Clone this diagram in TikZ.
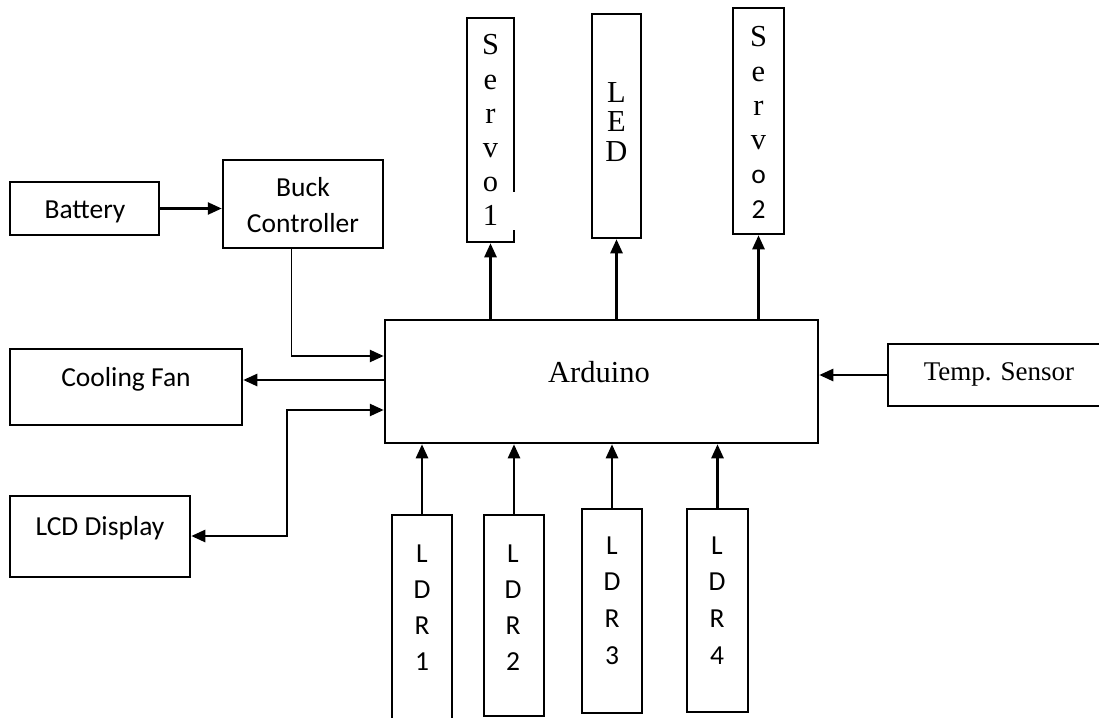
\documentclass[tikz,border=0pt]{standalone}
\usepackage{fontspec}
\setmainfont{Liberation Serif}
\newfontfamily\calfont{Carlito}
\newfontfamily\tnrfont{Liberation Serif}
\usetikzlibrary{arrows.meta}
\tikzset{
  blk/.style={draw, line width=2.5pt, rectangle, inner sep=0pt},
  arr/.style={line width=2.5pt, -{Triangle[length=14pt,width=12pt]}},
  arrb/.style={line width=2.5pt, {Triangle[length=14pt,width=12pt]}-{Triangle[length=14pt,width=12pt]}},
  thinln/.style={line width=1pt},
  cal/.style={font=\calfont\fontsize{27.5}{33}\selectfont, inner sep=0pt, anchor=base},
  tnr/.style={font=\tnrfont\fontsize{30.5}{34}\selectfont, inner sep=0pt, anchor=base},
  tnrs/.style={font=\tnrfont\fontsize{27}{32}\selectfont, inner sep=0pt, anchor=base},
}
\begin{document}
\begin{tikzpicture}[x=1pt,y=-1pt]
\useasboundingbox (0,0) rectangle (1099,717);
% boxes
\node[blk, minimum width=149pt, minimum height=53pt] (battery) at (84.5,208.5) {};
\node[blk, minimum width=160pt, minimum height=88pt] (buck) at (303,204) {};
\node[blk, minimum width=232pt, minimum height=76pt] (fan) at (126,387) {};
\node[blk, minimum width=180pt, minimum height=81pt] (lcd) at (100,536.5) {};
\node[blk, minimum width=433pt, minimum height=123pt] (arduino) at (601.5,381.5) {};
\node[blk, minimum width=217pt, minimum height=62pt] (temp) at (996.5,375) {};
\node[blk, minimum width=47pt, minimum height=224pt] (servo1) at (490.5,130) {};
\node[blk, minimum width=49pt, minimum height=224pt] (led) at (616.5,126) {};
\node[blk, minimum width=51pt, minimum height=226pt] (servo2) at (758.5,121) {};
\node[blk, minimum width=60pt, minimum height=207pt] (ldr1) at (422,618.5) {};
\node[blk, minimum width=60pt, minimum height=201pt] (ldr2) at (514,615.5) {};
\node[blk, minimum width=60pt, minimum height=204pt] (ldr3) at (612,611) {};
\node[blk, minimum width=61pt, minimum height=203pt] (ldr4) at (717.5,610.5) {};
\fill[white] (511.5,192) rectangle (517,230);
% texts
\node[cal] (tbat) at (85,218) {Battery};
\node[cal] (tbuck1) at (303,196) {Buck};
\node[cal] (tbuck2) at (303,232) {Controller};
\node[cal] (tfan) at (126,386) {Cooling Fan};
\node[cal] (tlcd) at (100,535) {LCD Display};
\node[tnr] (tard) at (599,382) {Arduino};
\node[tnrs] (ttemp) at (999,380) {Temp. Sensor};
\foreach \c [count=\i] in {S,e,r,v,o,1}
  \node[tnr] (ts1-\i) at (490.5,{55+34*(\i-1)}) {\c};
\foreach \c [count=\i] in {L,E,D}
  \node[tnr] (tled-\i) at (616.5,{102+29.5*(\i-1)}) {\c};
\foreach \c [count=\i] in {S,e,r,v}
  \node[tnr] (ts2-\i) at (758.5,{47+34.2*(\i-1)}) {\c};
\foreach \c [count=\i] in {o,2}
  \node[cal] (ts2b-\i) at (758.5,{47+34.2*(\i+3)}) {\c};
\foreach \c [count=\i] in {L,D,R,1}
  \node[cal] (tl1-\i) at (422,{562+36*(\i-1)}) {\c};
\foreach \c [count=\i] in {L,D,R,2}
  \node[cal] (tl2-\i) at (513,{562+36*(\i-1)}) {\c};
\foreach \c [count=\i] in {L,D,R,3}
  \node[cal] (tl3-\i) at (612,{554+36.7*(\i-1)}) {\c};
\foreach \c [count=\i] in {L,D,R,4}
  \node[cal] (tl4-\i) at (717,{554+36.7*(\i-1)}) {\c};
% connectors
\draw[arr] (battery.east) -- (buck.west |- battery.east);
\coordinate (bk) at (291,356);
\draw[thinln] (buck.south -| bk) -- (bk);
\draw[arr] (bk) -- (arduino.west |- bk);
\coordinate (fanp) at (385,380);
\draw[arr] (fanp) -- (fan.east |- fanp);
\coordinate (lcdk) at (287,536);
\coordinate (lcdy) at (0,410);
\draw[arrb] (lcd.east |- lcdk) -- (lcdk) |- (arduino.west |- lcdy);
\draw[arr] (temp.west) -- (arduino.east |- temp.west);
\draw[arr] (arduino.north -| servo1.south) -- (servo1.south);
\draw[arr] (arduino.north -| led.south) -- (led.south);
\draw[arr] (arduino.north -| servo2.south) -- (servo2.south);
\draw[arr] (ldr1.north) -- (arduino.south -| ldr1.north);
\draw[arr] (ldr2.north) -- (arduino.south -| ldr2.north);
\draw[arr] (ldr3.north) -- (arduino.south -| ldr3.north);
\draw[arr] (ldr4.north) -- (arduino.south -| ldr4.north);
\end{tikzpicture}
\end{document}
